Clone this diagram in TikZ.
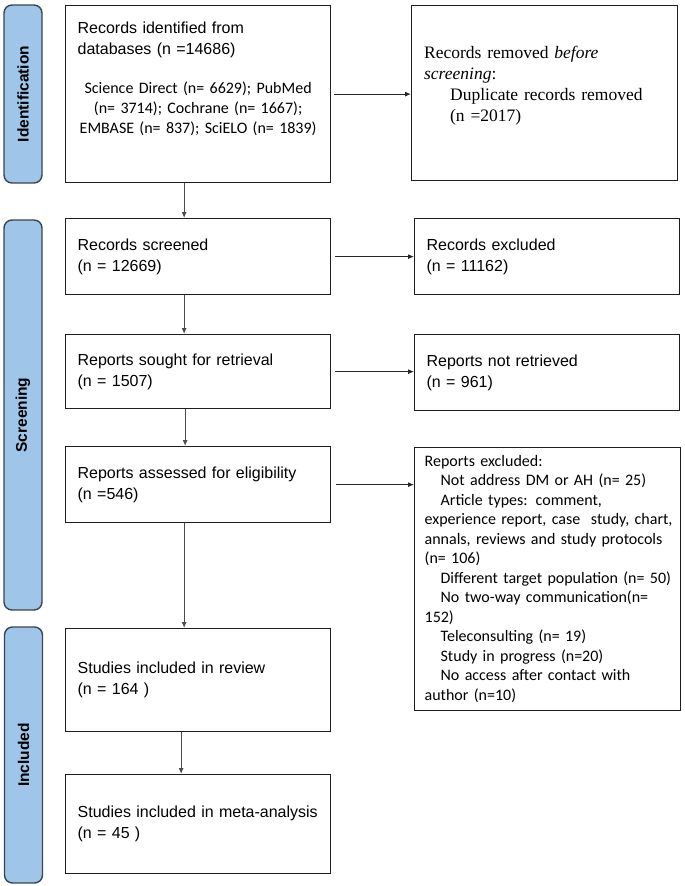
\documentclass[tikz,border=0pt]{standalone}
\usepackage{fontspec}
\setmainfont{Liberation Sans}
\newfontfamily\calibfont{Carlito}
\newfontfamily\timesfont{Liberation Serif}
\usetikzlibrary{arrows.meta, positioning}

\definecolor{phasefill}{HTML}{9FC5E8}
\definecolor{phaseline}{HTML}{3B4552}
\definecolor{boxline}{HTML}{1E1E1E}

\tikzset{
  box/.style={draw=boxline, line width=1.3pt, anchor=north west, minimum width=265pt,
    text width=241pt, inner xsep=12pt, inner ysep=0pt, align=left,
    font=\fontsize{16}{21}\selectfont},
  phase/.style={draw=phaseline, fill=phasefill, line width=1.4pt, rounded corners=8pt,
    rotate=90, minimum height=38pt, inner sep=0pt,
    font=\bfseries\fontsize{15.5}{18}\selectfont},
  flow/.style={-{Latex[length=6pt,width=5pt]}, line width=0.9pt, draw=black!85},
}

\begin{document}
\begin{tikzpicture}[x=1pt, y=-1pt]
\useasboundingbox (0,0) rectangle (685,886);

% phase bars
\node[phase, minimum width=178pt] (idbar) at (23,94) {Identification};
\node[phase, minimum width=390pt] (scbar) at (23,415) {Screening};
\node[phase, minimum width=256pt] (inbar) at (23.5,755) {Included};

% identification
\node[box, minimum height=177pt] (rec) at (65,5) {Records identified from\\
  databases (n =14686)\par\vspace{19pt}
  {\calibfont\fontsize{16}{20}\selectfont\centering
  Science Direct (n= 6629); PubMed\\
  (n= 3714); Cochrane (n= 1667);\\
  EMBASE (n= 837); SciELO (n= 1839)\par}\vspace*{30pt}\hrule height 0pt};
\node[box, minimum width=266pt, minimum height=175pt,
  font=\timesfont\fontsize{17.5}{21}\selectfont] (dup) at (411,5) {Records removed \textit{before}\\
  \textit{screening}:\\
  \hspace*{26pt}Duplicate records removed\\
  \hspace*{26pt}(n =2017)\par\vspace*{14pt}\hrule height 0pt};

% screening
\node[box, minimum height=76pt] (scr) at (65,218) {Records screened\\(n = 12669)};
\node[box, minimum height=76pt] (exc) at (414,218) {Records excluded\\(n = 11162)};
\node[box, minimum height=74pt] (sought) at (65,334) {Reports sought for retrieval\\(n = 1507)};
\node[box, minimum height=76pt] (notret) at (414,334) {Reports not retrieved\\(n = 961)};
\node[box, minimum height=76pt] (assess) at (65,446) {Reports assessed for eligibility\\(n =546)};
\node[box, minimum width=264pt, minimum height=263pt, text width=246pt, inner xsep=10pt,
  font=\calibfont\fontsize{16}{19.5}\selectfont] (rexc) at (414,447) {%
  \begin{tabular}{@{}l@{}}
  Reports excluded:\\
  \hspace*{16pt}Not address DM or AH (n= 25)\\
  \hspace*{16pt}Article types: comment,\\
  experience report, case~ study, chart,\\
  annals, reviews and study protocols\\
  (n= 106)\\
  \hspace*{16pt}Different target population (n= 50)\\
  \hspace*{16pt}No two-way communication(n=\\
  152)\\
  \hspace*{16pt}Teleconsulting (n= 19)\\
  \hspace*{16pt}Study in progress (n=20)\\
  \hspace*{16pt}No access after contact with\\
  author (n=10)
  \end{tabular}};

% included
\node[box, minimum height=103pt] (incl) at (65,628) {Studies included in review\\(n = 164 )};
\node[box, minimum height=99pt] (meta) at (65,774) {Studies included in meta-analysis\\(n = 45 )};

% connectors
\draw[flow, shorten <=3pt] (rec.east) -- (rec.east -| dup.west);
\draw[flow, shorten <=4pt] (scr.east) -- (scr.east -| exc.west);
\draw[flow, shorten <=4pt] (sought.east) -- (sought.east -| notret.west);
\draw[flow, shorten <=5pt] (assess.east) -- (assess.east -| rexc.west);
\draw[flow, draw=black!70] ([xshift=-14pt]rec.south) -- ([xshift=-14pt]scr.north);
\draw[flow, draw=black!70] ([xshift=-14pt]scr.south) -- ([xshift=-14pt]sought.north);
\draw[flow, draw=black!70] ([xshift=-13pt]sought.south) -- ([xshift=-13pt]assess.north);
\draw[flow, draw=black!70] ([xshift=-14pt]assess.south) -- ([xshift=-14pt]incl.north);
\draw[flow, draw=black!70] ([xshift=-17pt]incl.south) -- ([xshift=-17pt]meta.north);
\end{tikzpicture}
\end{document}
